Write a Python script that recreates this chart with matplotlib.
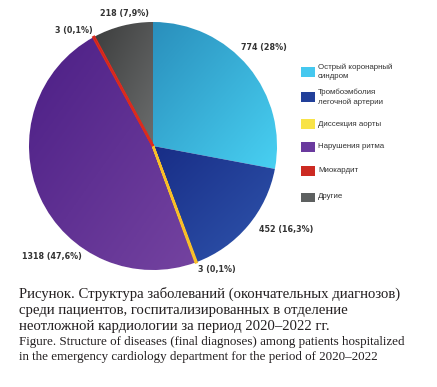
import numpy as np
import matplotlib
matplotlib.use('Agg')
import matplotlib.pyplot as plt
from matplotlib.colors import LinearSegmentedColormap
from matplotlib.patches import Rectangle

categories = ['Острый коронарный\nсиндром', 'Тромбоэмболия\nлегочной артерии',
              'Диссекция аорты', 'Нарушения ритма', 'Миокардит', 'Другие']
counts = [774, 452, 3, 1318, 3, 218]
pct_labels = ['774 (28%)', '452 (16,3%)', '3 (0,1%)', '1318 (47,6%)', '3 (0,1%)', '218 (7,9%)']

# gradient (dark, light) per slice, flat legend colour
grad_colors = [('#2a8fbc', '#48d0f2'), ('#182d86', '#2f55ad'), ('#f5b21c', '#f9c02a'),
               ('#4c1f86', '#7443a0'), ('#c8231a', '#dc2c1f'), ('#3c3d3d', '#6b6d6d')]
legend_colors = ['#45c8ef', '#22409a', '#f8e348', '#6a3a9e', '#cc2a22', '#5d6060']

fig = plt.figure(figsize=(4.37, 3.87), dpi=100)
W, H = 437, 387
ax = fig.add_axes([29 / W, (H - 270) / H, 248 / W, 248 / H])
ax.set_aspect('equal')

wedges, _ = ax.pie(counts, startangle=90, counterclock=False, radius=1,
                   colors=[c[1] for c in grad_colors],
                   wedgeprops=dict(edgecolor='white', linewidth=0.9))

for w, (c0, c1), n in zip(wedges, grad_colors, counts):
    th = np.radians(np.linspace(w.theta1, w.theta2, 100))
    xs = np.concatenate([[0], np.cos(th)])
    ys = np.concatenate([[0], np.sin(th)])
    x0, x1, y0, y1 = xs.min(), xs.max(), ys.min(), ys.max()
    gx, gy = np.meshgrid(np.linspace(0, 1, 100), np.linspace(0, 1, 100))
    g = gx + gy  # dark at top-left, light at bottom-right
    cmap = LinearSegmentedColormap.from_list('g', [c0, c1])
    im = ax.imshow(g, extent=[x0, x1, y0, y1], origin='upper', cmap=cmap,
                   zorder=w.get_zorder() + 0.1, aspect='auto')
    im.set_clip_path(w)
    if n < 10:
        w.set_edgecolor(c1)
        w.set_linewidth(1.8)
        w.set_zorder(5)
        im.set_zorder(5.1)

# value labels placed around the slice mid angle
label_dist = [1.2, 1.27, 1.12, 1.21, 1.13, 1.09]
label_shift = [2, 8, 7, 23, 6, -2]
for w, txt, d, s in zip(wedges, pct_labels, label_dist, label_shift):
    a = np.radians((w.theta1 + w.theta2) / 2 + s)
    ax.text(d * np.cos(a), d * np.sin(a), txt, ha='center', va='center',
            fontsize=5.8, fontweight='bold', color='#333333')

ax.set_xlim(-1, 1)
ax.set_ylim(-1, 1)
ax.axis('off')

# legend
leg_y = [72, 97, 124, 147, 171, 197]
for lab, col, y in zip(categories, legend_colors, leg_y):
    fig.patches.append(Rectangle((301 / W, (H - y - 4.5) / H), 14 / W, 9 / H,
                                 transform=fig.transFigure, facecolor=col, edgecolor='none'))
    fig.text(318 / W, (H - y) / H, lab, ha='left', va='center', fontsize=5.7,
             family='Liberation Sans', color='#333333', linespacing=1.5)

ru = ('Рисунок. Структура заболеваний (окончательных диагнозов)\n'
      'среди пациентов, госпитализированных в отделение\n'
      'неотложной кардиологии за период 2020–2022 гг.')
en = ('Figure. Structure of diseases (final diagnoses) among patients hospitalized\n'
      'in the emergency cardiology department for the period of 2020–2022')
fig.text(19 / W, (H - 287) / H, ru, ha='left', va='top', fontsize=10.6,
         family='Liberation Serif', color='#231f20', linespacing=1.27)
fig.text(19 / W, (H - 336) / H, en, ha='left', va='top', fontsize=9.4,
         family='Liberation Serif', color='#231f20', linespacing=1.3)

fig.savefig('out.png', dpi=100)
